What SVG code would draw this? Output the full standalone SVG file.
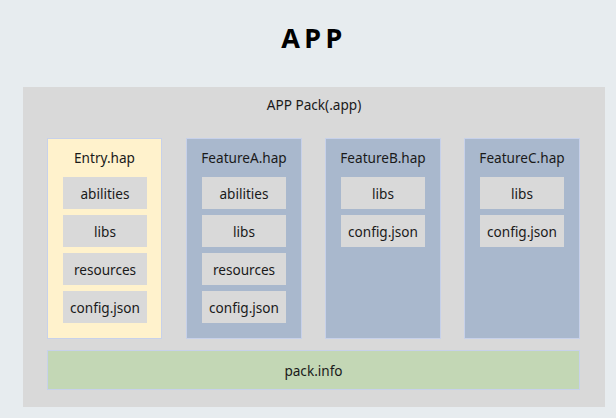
<svg xmlns="http://www.w3.org/2000/svg" width="616" height="418" viewBox="0 0 616 418">
<style>
text{font-family:"Noto Sans","Open Sans","DejaVu Sans",sans-serif;font-size:13.6px;fill:#1a1a1a;text-anchor:middle;dominant-baseline:central}
.title{font-size:27px;font-weight:bold;letter-spacing:4.5px;fill:#000}
.hap{stroke:#c7d1ea;stroke-width:1}
.entry{fill:#fff2cc}
.feat{fill:#a9b8cd}
.item{fill:#d9d9d9}
</style>
<rect width="616" height="418" fill="#e7ecef"/>
<text class="title" x="314" y="37">APP</text>
<g id="app-pack">
<rect x="23" y="87" width="582" height="320" fill="#d9d9d9"/>
<text x="314" y="104">APP Pack(.app)</text>
</g>
<g id="entry">
<rect class="hap entry" x="47.5" y="138.5" width="114" height="200"/>
<text x="104.5" y="157">Entry.hap</text>
<rect class="item" x="63" y="177" width="84" height="32"/><text x="105" y="193">abilities</text>
<rect class="item" x="63" y="215" width="84" height="32"/><text x="105" y="231">libs</text>
<rect class="item" x="63" y="253" width="84" height="32"/><text x="105" y="269">resources</text>
<rect class="item" x="63" y="291" width="84" height="32"/><text x="105" y="307">config.json</text>
</g>
<g id="featureA">
<rect class="hap feat" x="186.5" y="138.5" width="115" height="200"/>
<text x="244" y="157">FeatureA.hap</text>
<rect class="item" x="202" y="177" width="84" height="32"/><text x="244" y="193">abilities</text>
<rect class="item" x="202" y="215" width="84" height="32"/><text x="244" y="231">libs</text>
<rect class="item" x="202" y="253" width="84" height="32"/><text x="244" y="269">resources</text>
<rect class="item" x="202" y="291" width="84" height="32"/><text x="244" y="307">config.json</text>
</g>
<g id="featureB">
<rect class="hap feat" x="325.5" y="138.5" width="115" height="200"/>
<text x="383" y="157">FeatureB.hap</text>
<rect class="item" x="341" y="177" width="84" height="32"/><text x="383" y="193">libs</text>
<rect class="item" x="341" y="215" width="84" height="32"/><text x="383" y="231">config.json</text>
</g>
<g id="featureC">
<rect class="hap feat" x="464.5" y="138.5" width="115" height="200"/>
<text x="522" y="157">FeatureC.hap</text>
<rect class="item" x="480" y="177" width="84" height="32"/><text x="522" y="193">libs</text>
<rect class="item" x="480" y="215" width="84" height="32"/><text x="522" y="231">config.json</text>
</g>
<g id="pack-info">
<rect class="hap" x="47.5" y="350.5" width="532" height="39" fill="#c3d7b5"/>
<text x="313.5" y="370">pack.info</text>
</g>
<g id="connectors"/>
</svg>
